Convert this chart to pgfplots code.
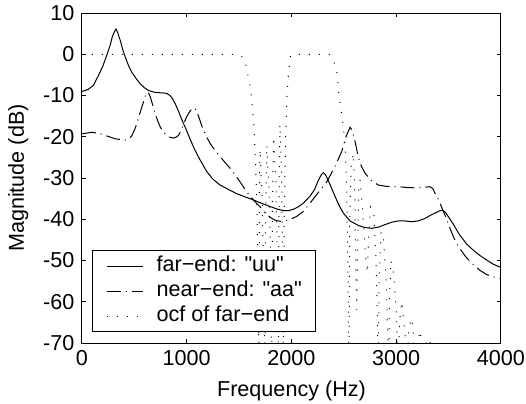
\documentclass[border=0pt]{standalone}
\usepackage{fontspec}
\setmainfont{Liberation Sans}[Ligatures=TeXOff]
\usepackage{pgfplots}
\pgfplotsset{compat=1.18}
\begin{document}
\fontsize{10.8}{13}\selectfont
\begin{tikzpicture}
\useasboundingbox (-41pt,-30pt) rectangle (222pt,171.5pt);
\begin{axis}[
  at={(0,0)}, anchor=south west,
  scale only axis, width=209.5pt, height=165pt,
  xmin=0, xmax=4000, ymin=-70, ymax=10,
  xtick={0,1000,...,4000}, ytick={-70,-60,...,10},
  scaled ticks=false,
  /pgf/number format/1000 sep={},
  /pgf/number format/assume math mode=true,
  tick align=inside, major tick length=2pt,
  axis line style={line width=0.5pt},
  tick style={line width=0.5pt, black},
  every tick label/.append style={font=\fontsize{10.8}{13}\selectfont},
  label style={font=\fontsize{10.8}{13}\selectfont},
  xlabel={Frequency (Hz)}, ylabel={Magnitude (dB)},
  legend cell align=left,
  legend style={at={(0.024,0.033)}, anchor=south west, draw=black, line width=0.5pt,
    fill=white, font=\fontsize{10.8}{13}\selectfont,
    inner xsep=6.9pt, inner ysep=1.5pt, row sep=0pt, column sep=6.65pt,
    nodes={inner xsep=0pt, inner ysep=1pt, text height=8pt, text depth=2.5pt}},
  legend image code/.code={\draw[#1] (0pt,0pt) -- (18pt,0pt);},
]
\addplot[black, line width=0.5pt] coordinates {
(0,-9.0)(60,-8.5)(110,-7.5)(160,-5.0)(200,-2.8)(240,0)(270,2.3)(290,4.3)(310,5.5)(325,6.1)(340,5.3)(366,3.3)(390,1.0)(414,-0.7)(445,-2.8)(477,-4.4)(520,-6.0)(557,-7.2)(600,-8.2)(636,-8.8)(690,-9.2)(732,-9.3)(780,-9.4)(811,-9.5)(840,-10.0)(860,-10.6)(890,-12.0)(923,-13.9)(955,-16.0)(987,-17.8)(1031,-20.5)(1070,-22.8)(1114,-25.0)(1190,-28.4)(1250,-30.3)(1318,-31.7)(1400,-32.8)(1477,-33.8)(1560,-34.6)(1636,-35.3)(1720,-36.2)(1795,-36.9)(1860,-37.5)(1922,-37.9)(1970,-37.9)(2017,-37.6)(2070,-36.9)(2113,-36.1)(2177,-34.4)(2220,-32.8)(2256,-30.6)(2285,-29.2)(2304,-28.7)(2325,-29.2)(2351,-30.6)(2385,-32.6)(2415,-34.4)(2455,-36.7)(2495,-38.5)(2558,-40.4)(2638,-41.5)(2700,-42.0)(2766,-42.2)(2830,-41.9)(2893,-41.3)(2960,-40.7)(3020,-40.4)(3080,-40.4)(3147,-40.6)(3210,-40.4)(3274,-39.8)(3330,-39.0)(3370,-38.5)(3410,-38.0)(3440,-37.8)(3470,-38.3)(3500,-39.5)(3545,-41.2)(3600,-43.6)(3672,-46.0)(3740,-47.6)(3800,-48.8)(3870,-50.0)(3927,-50.9)(4000,-51.7)
};
\addlegendentry{far−end: "uu"}
\addplot[black, line width=0.5pt, dash pattern=on 7pt off 2.5pt on 0.5pt off 2.5pt] coordinates {
(0,-19.3)(95,-18.9)(191,-19.4)(260,-20.0)(318,-20.5)(414,-20.8)(450,-20.5)(477,-19.7)(510,-17.8)(541,-15.3)(565,-13.3)(589,-11.4)(605,-10.0)(621,-9.2)(637,-9.5)(653,-10.4)(675,-12.3)(700,-14.5)(725,-16.3)(748,-17.7)(780,-19.0)(811,-19.7)(845,-20.2)(875,-20.3)(900,-20.1)(923,-19.6)(950,-18.3)(971,-16.9)(995,-15.4)(1018,-14.3)(1045,-13.3)(1066,-13.0)(1082,-13.3)(1098,-14.0)(1120,-15.6)(1146,-17.5)(1185,-19.8)(1225,-21.7)(1270,-23.3)(1318,-24.8)(1365,-26.2)(1413,-27.6)(1460,-29.2)(1508,-30.9)(1555,-32.7)(1604,-34.4)(1650,-35.7)(1700,-37.0)(1750,-38.5)(1795,-39.5)(1840,-40.2)(1890,-40.5)(1940,-40.4)(2000,-39.9)(2050,-39.3)(2113,-38.1)(2177,-36.1)(2225,-34.5)(2272,-33.0)(2336,-31.0)(2415,-27.2)(2479,-23.6)(2520,-20.0)(2559,-17.7)(2580,-18.5)(2610,-21.5)(2638,-25.0)(2670,-27.3)(2702,-28.8)(2760,-30.6)(2829,-31.7)(2900,-32.0)(3020,-32.1)(3100,-32.3)(3195,-32.4)(3260,-32.3)(3322,-32.1)(3350,-32.6)(3370,-33.7)(3395,-34.8)(3418,-36.1)(3445,-37.8)(3466,-39.0)(3490,-40.7)(3513,-42.2)(3545,-44.2)(3580,-46.0)(3609,-47.2)(3670,-49.3)(3736,-51.0)(3800,-52.4)(3863,-53.4)(3930,-54.0)(4000,-54.4)
};
\addlegendentry{near−end: "aa"}
\addplot[black, line width=0.5pt, dash pattern=on 0.5pt off 4.5pt] coordinates {
(0,0)(1480,0)(1520,-0.4)(1557,-1.4)(1573,-3.8)(1600,-7)(1620,-10.7)(1640,-17)(1655,-25)(1668,-35)(1680,-50)(1688,-75)(1695,-30)(1700,-23)(1720,-35)(1738,-60)(1745,-80)(1752,-40)(1765,-22)(1785,-33)(1805,-55)(1812,-80)(1818,-35)(1830,-20)(1850,-30)(1868,-55)(1875,-80)(1882,-30)(1890,-17)(1905,-28)(1918,-55)(1923,-80)(1930,-40)(1945,-20)(1955,-11)(1971,-4.6)(1990,-0.5)(2010,0)(2360,0)(2400,-1.5)(2432,-3.8)(2448,-8.6)(2480,-15)(2496,-17.5)(2512,-22.4)(2528,-33)(2540,-55)(2548,-80)(2556,-40)(2570,-27)(2592,-24)(2605,-35)(2617,-55)(2623,-62)(2630,-50)(2642,-33)(2655,-30.4)(2680,-38)(2710,-50)(2725,-53)(2735,-45)(2755,-37)(2783,-38)(2805,-48)(2822,-65)(2828,-80)(2836,-55)(2855,-43)(2878,-44.5)(2905,-55)(2922,-70)(2926,-80)(2935,-60)(2950,-50)(2973,-52.6)(3000,-62)(3016,-75)(3021,-80)(3030,-65)(3053,-59.9)(3085,-68)(3101,-80)(3115,-68)(3140,-64)(3164,-66.3)(3180,-80)(3200,-70)(3230,-67)(3260,-80)(3290,-69)(3324,-69.6)(3340,-80)(3370,-72)(3400,-85)(4000,-85)
};
\addlegendentry{ocf of far−end}
\end{axis}
\end{tikzpicture}
\end{document}
